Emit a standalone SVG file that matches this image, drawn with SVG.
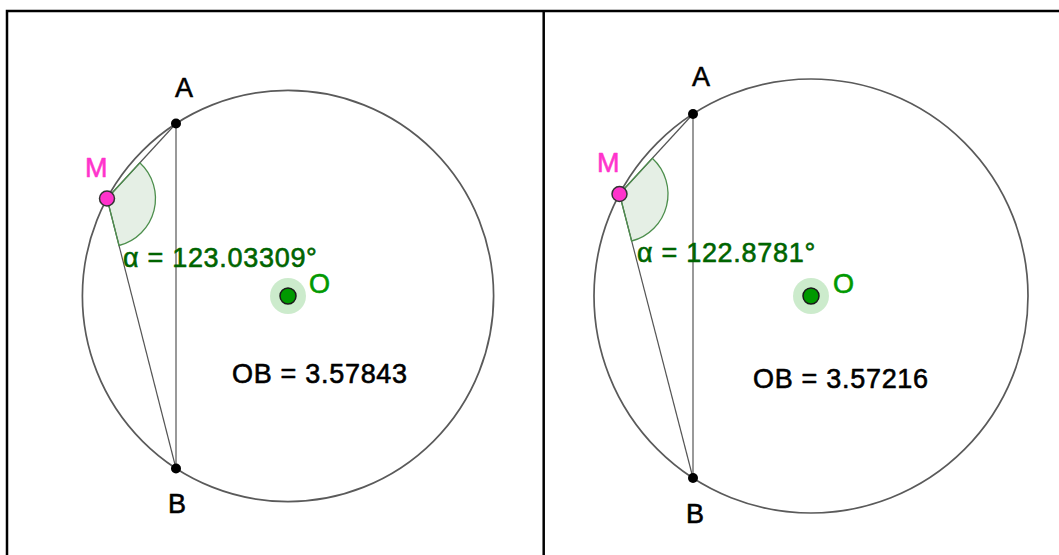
<svg xmlns="http://www.w3.org/2000/svg" width="1059" height="555" viewBox="0 0 1059 555">
<style>
  .frame{fill:none;stroke:#000;stroke-width:2.5}
  .circ{fill:none;stroke:#5a5a5a;stroke-width:1.7}
  .seg{fill:none;stroke:#555;stroke-width:1.2}
  .ang{fill:#006400;fill-opacity:0.1;stroke:#4d8f4d;stroke-width:1.3}
  .pt{fill:#000}
  .ptM{fill:#ff33cc;stroke:#333;stroke-width:1.5}
  .halo{fill:#009900;fill-opacity:0.2}
  .ptO{fill:#009900;stroke:#1a1a1a;stroke-width:1.5}
  text{font-family:"Liberation Sans",Arial,sans-serif;font-size:27px;letter-spacing:0.7px;stroke-width:0.6px;stroke-linejoin:round}
  .lblk{fill:#000;stroke:#000}
  .lm{fill:#ff33cc;stroke:#ff33cc}
  .lo{fill:#009900;stroke:#009900}
  .la{fill:#006400;stroke:#006400}
</style>
<g id="frame">
  <path class="frame" d="M7,555 V11 H1059 M543.7,11 V555"/>
</g>
<g id="left">
  <g id="circleL"><circle class="circ" cx="288" cy="296" r="205.6"/></g>
  <g id="connectorsL">
    <line class="seg" x1="176" y1="123.5" x2="176" y2="468.5"/>
    <line class="seg" x1="107" y1="198.5" x2="176" y2="123.5"/>
    <line class="seg" x1="107" y1="198.5" x2="176" y2="468.5"/>
  </g>
  <g id="angleL"><path class="ang" d="M107,198.5 L139.8,162.8 A48.5,48.5 0 0 1 119,245.5 Z"/></g>
  <g id="pointAL"><circle class="pt" cx="176" cy="123.5" r="5"/><text class="lblk" x="175" y="96.5">A</text></g>
  <g id="pointBL"><circle class="pt" cx="176" cy="468.5" r="5"/><text class="lblk" x="168" y="512.5">B</text></g>
  <g id="pointML"><circle class="ptM" cx="107" cy="198.5" r="7.5"/><text class="lm" x="85" y="177">M</text></g>
  <g id="pointOL"><circle class="halo" cx="288" cy="296" r="18"/><circle class="ptO" cx="288" cy="296" r="8"/><text class="lo" x="309" y="293">O</text></g>
  <g id="alphaL"><text class="la" x="123" y="266.5">α = 123.03309°</text></g>
  <g id="obL"><text class="lblk" x="232" y="383">OB = 3.57843</text></g>
</g>
<g id="right">
  <g id="circleR"><circle class="circ" cx="811" cy="296" r="217"/></g>
  <g id="connectorsR">
    <line class="seg" x1="693" y1="114" x2="693" y2="478"/>
    <line class="seg" x1="619.5" y1="194" x2="693" y2="114"/>
    <line class="seg" x1="619.5" y1="194" x2="693" y2="478"/>
  </g>
  <g id="angleR"><path class="ang" d="M619.5,194 L652.3,158.3 A48.5,48.5 0 0 1 631.6,241 Z"/></g>
  <g id="pointAR"><circle class="pt" cx="693" cy="114" r="5"/><text class="lblk" x="692" y="86">A</text></g>
  <g id="pointBR"><circle class="pt" cx="693" cy="478" r="5"/><text class="lblk" x="686" y="523">B</text></g>
  <g id="pointMR"><circle class="ptM" cx="619.5" cy="194" r="7.5"/><text class="lm" x="597" y="171.5">M</text></g>
  <g id="pointOR"><circle class="halo" cx="811" cy="296" r="18"/><circle class="ptO" cx="811" cy="296" r="8"/><text class="lo" x="833" y="293">O</text></g>
  <g id="alphaR"><text class="la" x="637" y="261.5">α = 122.8781°</text></g>
  <g id="obR"><text class="lblk" x="753" y="387.5">OB = 3.57216</text></g>
</g>
</svg>
